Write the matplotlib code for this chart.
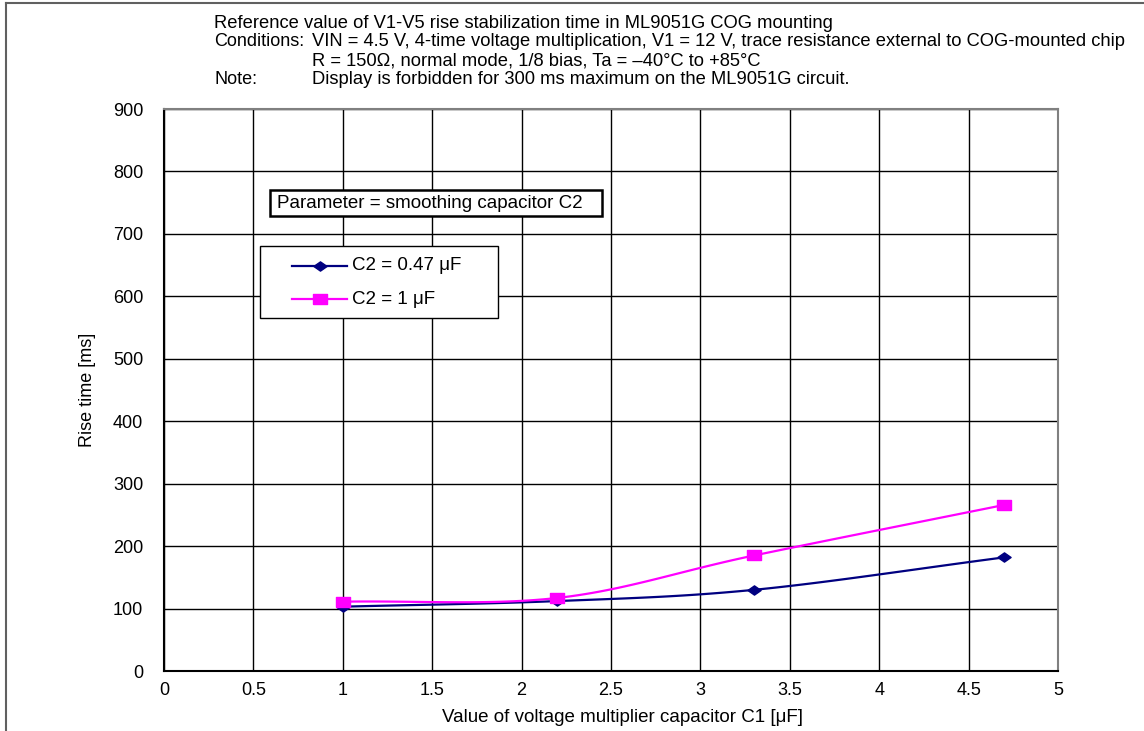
import numpy as np
import matplotlib
matplotlib.use('Agg')
import matplotlib.pyplot as plt
from matplotlib.lines import Line2D
from matplotlib.patches import Rectangle

plt.rcParams['font.family'] = ['Liberation Sans', 'DejaVu Sans']
plt.rcParams['font.size'] = 13

# data
c1 = [1.0, 2.2, 3.3, 4.7]
rise_047 = [103, 112, 130, 182]
rise_1 = [111, 117, 185, 266]
series_labels = ['C2 = 0.47 \u03bcF', 'C2 = 1 \u03bcF']
series_colors = ['#000080', '#ff00ff']

x_ticks = [0, 0.5, 1, 1.5, 2, 2.5, 3, 3.5, 4, 4.5, 5]
x_tick_labels = ['0', '0.5', '1', '1.5', '2', '2.5', '3', '3.5', '4', '4.5', '5']
y_ticks = [0, 100, 200, 300, 400, 500, 600, 700, 800, 900]

title_lines = [
    ('', 'Reference value of V1-V5 rise stabilization time in ML9051G COG mounting'),
    ('Conditions:', 'VIN = 4.5 V, 4-time voltage multiplication, V1 = 12 V, trace resistance external to COG-mounted chip'),
    ('', 'R = 150\u03a9, normal mode, 1/8 bias, Ta = \u201340\u00b0C to +85\u00b0C'),
    ('Note:', 'Display is forbidden for 300 ms maximum on the ML9051G circuit.'),
]

# wide diamond / wide square like the spreadsheet markers
diamond = [(-1, 0), (0, 0.7), (1, 0), (0, -0.7), (-1, 0)]
square = [(-1, -0.78), (1, -0.78), (1, 0.78), (-1, 0.78), (-1, -0.78)]
series_markers = [diamond, square]


def smooth(x, y, n=30):
    # catmull-rom through the points, like the spreadsheet "smoothed line"
    x = np.asarray(x, float)
    y = np.asarray(y, float)
    px = np.concatenate([[2*x[0]-x[1]], x, [2*x[-1]-x[-2]]])
    py = np.concatenate([[2*y[0]-y[1]], y, [2*y[-1]-y[-2]]])
    xs, ys = [], []
    t = np.linspace(0, 1, n)
    for i in range(1, len(px)-2):
        for p, out in ((px, xs), (py, ys)):
            p0, p1, p2, p3 = p[i-1], p[i], p[i+1], p[i+2]
            out.extend(0.5*((2*p1) + (-p0+p2)*t + (2*p0-5*p1+4*p2-p3)*t**2 + (-p0+3*p1-3*p2+p3)*t**3))
    return xs, ys


W, H = 1144, 731
fig = plt.figure(figsize=(W/100, H/100), dpi=100)
ax = fig.add_axes([164/W, 1-671/H, (1058-164)/W, (671-109)/H])

for vals, col, mk in zip([rise_047, rise_1], series_colors, series_markers):
    sx, sy = smooth(c1, vals)
    ax.plot(sx, sy, color=col, lw=1.6, zorder=3)
    ax.plot(c1, vals, marker=mk, ls='none', color=col, ms=9.5, zorder=4)

ax.set_xlim(0, 5)
ax.set_ylim(0, 900)
ax.set_xticks(x_ticks)
ax.set_xticklabels(x_tick_labels)
ax.set_yticks(y_ticks)
ax.grid(True, color='black', lw=1)
ax.set_axisbelow(True)
ax.tick_params(axis='both', length=0, labelsize=13)
ax.tick_params(axis='y', pad=15)
ax.tick_params(axis='x', pad=8)
for s in ('top', 'right'):
    ax.spines[s].set_color('#808080')
    ax.spines[s].set_linewidth(1.5)
for s in ('left', 'bottom'):
    ax.spines[s].set_color('black')
    ax.spines[s].set_linewidth(1.5)

fig.text(622/W, 1-717/H, 'Value of voltage multiplier capacitor C1 [\u03bcF]', ha='center', va='center', fontsize=13.5)
fig.text(87/W, 1-390/H, 'Rise time [ms]', ha='center', va='center', rotation=90, fontsize=13)

# header text
ys = [23, 42, 61, 80]
for i, ((lead, body), yy) in enumerate(zip(title_lines, ys)):
    if lead:
        fig.text(214/W, 1-yy/H, lead, ha='left', va='center', fontsize=13)
    bx = 214 if i == 0 else 312
    fig.text(bx/W, 1-yy/H, body, ha='left', va='center', fontsize=13.2)

# parameter box
fig.add_artist(Rectangle((270/W, 1-216/H), 332/W, 26/H, transform=fig.transFigure,
                         fc='white', ec='black', lw=1.8, zorder=5))
fig.text(277/W, 1-203/H, 'Parameter = smoothing capacitor C2', ha='left', va='center',
         fontsize=13.5, zorder=6)

# legend box drawn by hand to match the spreadsheet layout
fig.add_artist(Rectangle((260/W, 1-318/H), 238/W, 72/H, transform=fig.transFigure,
                         fc='white', ec='black', lw=1, zorder=5))
for lab, col, mk, yy in zip(series_labels, series_colors, series_markers, [266, 299]):
    fig.add_artist(Line2D([292/W, 347/W], [1-yy/H, 1-yy/H], color=col, lw=1.6, zorder=6))
    fig.add_artist(Line2D([319.5/W], [1-yy/H], marker=mk, color=col, ms=9.5, ls='none', zorder=7))
    fig.text(352/W, 1-yy/H, lab, ha='left', va='center', fontsize=13.5, zorder=7)

# outer frame
fig.add_artist(Line2D([6/W, 1], [1-3/H, 1-3/H], color='#606060', lw=1.5))
fig.add_artist(Line2D([6/W, 6/W], [0, 1-3/H], color='#606060', lw=1.5))

fig.savefig('out.png', dpi=100)
